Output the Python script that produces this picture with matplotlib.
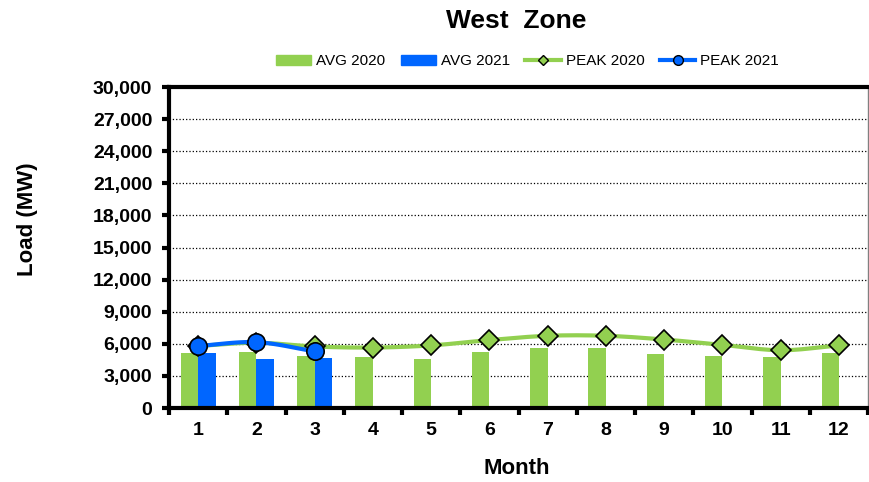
import numpy as np
import matplotlib.pyplot as plt
from matplotlib.lines import Line2D
from matplotlib.patches import Patch

plt.rcParams['font.family'] = ['Liberation Sans', 'DejaVu Sans']

months = [1, 2, 3, 4, 5, 6, 7, 8, 9, 10, 11, 12]
avg_2020 = [5150, 5250, 4900, 4750, 4550, 5200, 5650, 5650, 5050, 4900, 4750, 5100]
avg_2021 = [5100, 4600, 4700]
peak_2020 = [5800, 6100, 5750, 5650, 5850, 6350, 6750, 6750, 6400, 5900, 5400, 5850]
peak_2021 = [5800, 6150, 5300]
yticks = list(range(0, 30001, 3000))

GREEN = '#92D050'
BLUE = '#0066FF'


def smooth(xs, ys, n=20):
    # catmull-rom curve through the points, like Excel's smoothed line
    xs = np.asarray(xs, float)
    ys = np.asarray(ys, float)
    px = np.concatenate([[2 * xs[0] - xs[1]], xs, [2 * xs[-1] - xs[-2]]])
    py = np.concatenate([[2 * ys[0] - ys[1]], ys, [2 * ys[-1] - ys[-2]]])
    ox, oy = [], []
    t = np.linspace(0, 1, n, endpoint=False)
    for i in range(1, len(px) - 2):
        for p, o in ((px, ox), (py, oy)):
            p0, p1, p2, p3 = p[i - 1], p[i], p[i + 1], p[i + 2]
            o.extend(0.5 * (2 * p1 + (-p0 + p2) * t + (2 * p0 - 5 * p1 + 4 * p2 - p3) * t ** 2
                            + (-p0 + 3 * p1 - 3 * p2 + p3) * t ** 3))
    ox.append(xs[-1])
    oy.append(ys[-1])
    return ox, oy


fig = plt.figure(figsize=(8.69, 4.82), dpi=100)
ax = fig.add_axes([0.1945, 0.1535, 0.8045, 0.666])

w = 0.3
ax.bar(np.array(months) - w / 2, avg_2020, width=w, color=GREEN, zorder=2)
ax.bar(np.array(months[:len(avg_2021)]) + w / 2, avg_2021, width=w, color=BLUE, zorder=2)

sx, sy = smooth(months, peak_2020)
ax.plot(sx, sy, color=GREEN, lw=3, zorder=3, solid_capstyle='round')
ax.plot(months, peak_2020, ls='none', marker='D', ms=10.5, mfc=GREEN, mec='black', mew=1.2, zorder=4)
sx, sy = smooth(months[:len(peak_2021)], peak_2021)
ax.plot(sx, sy, color=BLUE, lw=3, zorder=5, solid_capstyle='round')
ax.plot(months[:len(peak_2021)], peak_2021, ls='none', marker='o', ms=12.5, mfc=BLUE,
        mec='black', mew=1.2, zorder=6)

ax.set_xlim(0.5, 12.5)
ax.set_ylim(0, 30000)
ax.set_yticks(yticks)
ax.set_yticklabels([f'{v:,}' for v in yticks], fontsize=14, fontweight='bold')
ax.set_xticks(months)
ax.set_xticklabels([str(m) for m in months], fontsize=14, fontweight='bold')
ax.tick_params(axis='x', which='major', length=0, pad=10)
ax.set_xticks(np.arange(0.5, 13, 1), minor=True)
ax.tick_params(axis='x', which='minor', length=5, width=3, direction='out')
ax.tick_params(axis='y', length=5, width=3, direction='out', pad=7)
ax.yaxis.grid(True, ls=':', color='black', lw=0.9, zorder=0)

for s in ('left', 'bottom', 'top'):
    ax.spines[s].set_linewidth(3)
    ax.spines[s].set_color('black')
ax.spines['right'].set_linewidth(1)
ax.spines['right'].set_color('#808080')

fig.text(516.5 / 869, 1 - 469 / 482, 'Month', ha='center', va='center', fontsize=16, fontweight='bold')
fig.text(27.5 / 869, 1 - 219 / 482, 'Load (MW)', ha='center', va='center', rotation=90,
         fontsize=16, fontweight='bold')
fig.text(516.5 / 869, 1 - 21 / 482, 'West  Zone', ha='center', va='center', fontsize=19, fontweight='bold')

handles = [
    Patch(color=GREEN, label='AVG 2020'),
    Patch(color=BLUE, label='AVG 2021'),
    Line2D([], [], color=GREEN, lw=3, marker='D', ms=5, mfc=GREEN, mec='black', label='PEAK 2020'),
    Line2D([], [], color=BLUE, lw=3, marker='o', ms=7, mfc=BLUE, mec='black', label='PEAK 2021'),
]
fig.legend(handles=handles, loc='center', bbox_to_anchor=(0.607, 0.873), ncol=4, frameon=False,
           fontsize=11, handlelength=2.3, handleheight=0.6, handletextpad=0.35, columnspacing=1.0)

fig.savefig('out.png', dpi=100)
